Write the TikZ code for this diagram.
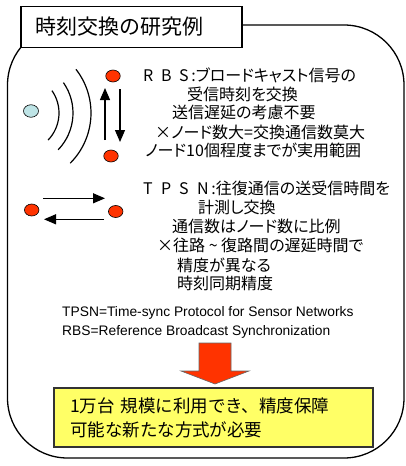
\documentclass[tikz,border=0pt]{standalone}
\usepackage{fontspec}
\setmainfont{Liberation Sans}
\newfontfamily\jp{Noto Sans CJK JP}[RawFeature=+palt]
\newfontfamily\jpf{Noto Sans CJK JP}
\usetikzlibrary{shapes.geometric,arrows.meta}
\definecolor{dotred}{RGB}{255,51,0}
\definecolor{dotblue}{RGB}{190,228,230}
\definecolor{boxyellow}{RGB}{255,255,102}
\newcommand{\spl}[1]{\makebox[18pt][l]{#1}}
\tikzset{
  rdot/.style={ellipse,draw=black,line width=0.6pt,fill=dotred,minimum width=14.5pt,minimum height=12pt,inner sep=0pt},
  bdot/.style={ellipse,draw=black,line width=0.6pt,fill=dotblue,minimum width=15pt,minimum height=12.5pt,inner sep=0pt},
  arr/.style={line width=1.2pt,-{Triangle[width=10pt,length=12pt]}},
  wave/.style={line width=1.2pt},
  jline/.style={anchor=west,inner sep=0pt,font=\jp\fontsize{16}{19}\selectfont},
  eline/.style={anchor=west,inner sep=0pt,font=\fontsize{13.8}{16}\selectfont},
}
\begin{document}
\begin{tikzpicture}[x=1pt,y=-1pt]
\useasboundingbox (0,0) rectangle (406,466);
% outer frame
\draw[line width=1.3pt,rounded corners=60pt] (7.5,25) rectangle (404,458);
% title
\node[draw=black,line width=1.2pt,fill=white,minimum width=221pt,minimum height=40.6pt,
      inner xsep=14pt,inner ysep=0pt,align=left,text width=193pt,
      font=\jpf\fontsize{21}{24}\selectfont] (title) at (131.5,27) {時刻交換の研究例};
% RBS picture
\node[bdot] (blue) at (31,111) {};
\draw[wave] (20,113) ++(-35:39) arc[start angle=-35,end angle=44,radius=39];
\draw[wave] (20,113) ++(-35:53) arc[start angle=-35,end angle=44,radius=53];
\draw[wave] (20,113) ++(-38:71) arc[start angle=-38,end angle=45,radius=71];
\node[rdot] (rtop) at (113,76) {};
\node[rdot] (rbot) at (111,156) {};
\coordinate (ua) at (105,140);
\coordinate (ub) at (105,88);
\coordinate (da) at (120,89);
\coordinate (db) at (120,142);
\draw[arr] (ua) -- (ub);
\draw[arr] (da) -- (db);
% TPSN picture
\node[rdot] (tl) at (31.7,210) {};
\node[rdot] (tr) at (115.7,211.5) {};
\coordinate (ra) at (43,198.3);
\coordinate (rb) at (105,198.3);
\coordinate (la) at (104,219.3);
\coordinate (lb) at (44,219.3);
\draw[arr] (ra) -- (rb);
\draw[arr] (la) -- (lb);
% RBS text
\node[jline] (r1) at (143,75) {\spl{R}\spl{B}S\,:ブロードキャスト信号の};
\node[jline] (r2) at (187,94) {受信時刻を交換};
\node[jline] (r3) at (172,112.5) {送信遅延の考慮不要};
\node[jline] (r4) at (155,132) {×ノード数大=交換通信数莫大};
\node[jline] (r5) at (145,150.5) {ノード10個程度までが実用範囲};
% TPSN text
\node[jline] (t1) at (143,188) {\spl{T}\spl{P}\spl{S}N\,:往復通信の送受信時間を};
\node[jline] (t2) at (198,207) {計測し交換};
\node[jline] (t3) at (172,226.5) {通信数はノード数に比例};
\node[jline] (t4) at (157,245.5) {×往路 \textasciitilde{} 復路間の遅延時間で};
\node[jline] (t5) at (177,265) {精度が異なる};
\node[jline] (t6) at (177,283.5) {時刻同期精度};
% English
\node[eline] (e1) at (62,313) {TPSN=Time-sync Protocol for Sensor Networks};
\node[eline] (e2) at (62,332) {RBS=Reference Broadcast Synchronization};
% big red arrow
\draw[fill=dotred,draw=black!60,line width=0.6pt]
  (199,343) -- (231,343) -- (231,371) -- (249,371) -- (215,384) -- (181,371) -- (199,371) -- cycle;
% yellow box
\node[draw=black!80,line width=1.5pt,fill=boxyellow,minimum width=319pt,minimum height=59pt,
      inner xsep=16pt,inner ysep=0pt,align=left,text width=287pt,
      font=\jpf\fontsize{17.5}{24}\selectfont] (result) at (213.5,417.5)
  {1万台 規模に利用でき、精度保障\\可能な新たな方式が必要};
\end{tikzpicture}
\end{document}
